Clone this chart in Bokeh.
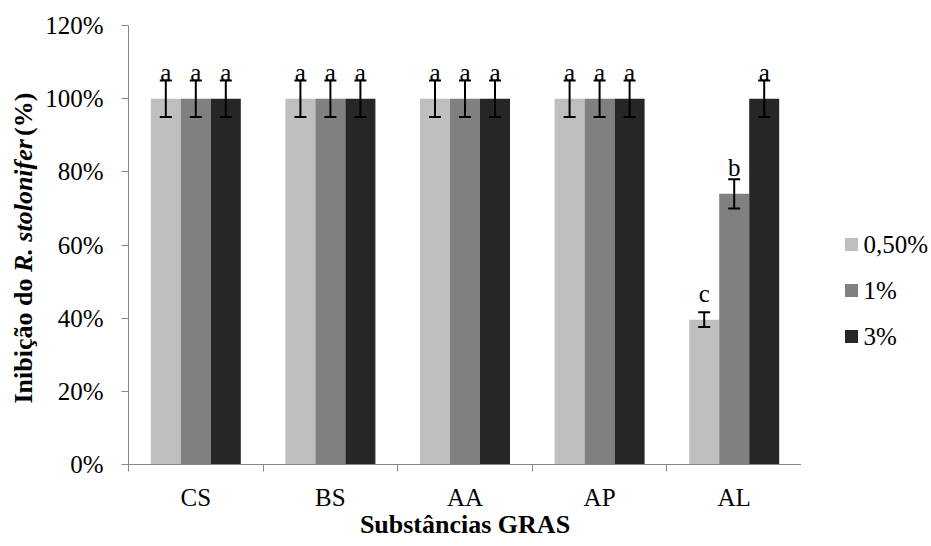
import math
from bokeh.plotting import figure
from bokeh.layouts import row
from bokeh.models import ColumnDataSource, FixedTicker, Range1d, Whisker, TeeHead
from bokeh.core.properties import value
from bokeh.embed import file_html
from bokeh.resources import INLINE

categories = ["CS", "BS", "AA", "AP", "AL"]
series = ["0,50%", "1%", "3%"]
colors = ["#BFBFBF", "#808080", "#262626"]
values = {
    "0,50%": [100, 100, 100, 100, 39.6],
    "1%":    [100, 100, 100, 100, 74.0],
    "3%":    [100, 100, 100, 100, 100],
}
errors = {
    "0,50%": [5, 5, 5, 5, 2],
    "1%":    [5, 5, 5, 5, 4],
    "3%":    [5, 5, 5, 5, 5],
}
letters = {
    "0,50%": ["a", "a", "a", "a", "c"],
    "1%":    ["a", "a", "a", "a", "b"],
    "3%":    ["a", "a", "a", "a", "a"],
}
y_ticks = [0, 20, 40, 60, 80, 100, 120]
y_tick_labels = ["0%", "20%", "40%", "60%", "80%", "100%", "120%"]
x_title = "Substâncias GRAS"
y_title_parts = ["Inibição do ", "R. stolonifer", " (%)"]
y_title_styles = ["bold", "bold italic", "bold"]

FONT = "Liberation Serif"
GRAY = "#868686"
H = 546
LEFT_W = 40
FW, FH = 673, 439
TOP = 25
LEG_W = 130


def strip(width):
    f = figure(frame_width=width, frame_height=FH, output_backend="svg", toolbar_location=None,
               x_range=Range1d(0, width), y_range=Range1d(TOP + FH, TOP),
               min_border=0, min_border_top=TOP, x_axis_location=None, y_axis_location=None)
    f.outline_line_color = None
    f.grid.visible = False
    return f


# ---------- left strip: y-axis title ----------
pl = strip(LEFT_W)
piece_w = [131.5, 136, 50]
anchor = 403
for txt, style, w in zip(y_title_parts, y_title_styles, piece_w):
    pl.text(x=[23], y=[anchor], text=[txt], angle=math.pi / 2, text_align="left",
            text_baseline="middle", text_font=value(FONT), text_font_style=style,
            text_font_size="26px", text_color="black")
    anchor -= w

# ---------- main plot ----------
p = figure(frame_width=FW, frame_height=FH, output_backend="svg", toolbar_location=None,
           x_range=Range1d(0, len(categories)), y_range=Range1d(0, 120),
           min_border_left=128 - LEFT_W, min_border_right=0, min_border_top=TOP,
           min_border_bottom=H - TOP - FH)
p.outline_line_color = None
p.xgrid.visible = False
p.ygrid.visible = False

bw = 30 / (FW / len(categories))
offsets = [-bw, 0, bw]
for s, c, off in zip(series, colors, offsets):
    xs = [i + 0.5 + off for i in range(len(categories))]
    v = values[s]
    e = errors[s]
    src = ColumnDataSource(dict(x=xs, top=v, lower=[a - b for a, b in zip(v, e)],
                                upper=[a + b for a, b in zip(v, e)], lab=letters[s]))
    p.vbar(x="x", top="top", width=bw, bottom=0, source=src, fill_color=c, line_color=None)
    w = Whisker(source=src, base="x", lower="lower", upper="upper", dimension="height",
                line_color="black", line_width=2, level="overlay",
                upper_head=TeeHead(size=12, line_width=2, line_color="black"),
                lower_head=TeeHead(size=12, line_width=2, line_color="black"))
    p.add_layout(w)
    p.text(x="x", y="top", text="lab", source=src, text_align="center",
           text_baseline="alphabetic", y_offset=-26, text_font=value(FONT),
           text_font_size="25px", text_color="black")

p.xaxis.ticker = FixedTicker(ticks=[i + 0.5 for i in range(len(categories))],
                             minor_ticks=list(range(len(categories) + 1)))
p.xaxis.major_label_overrides = {i + 0.5: c for i, c in enumerate(categories)}
p.xaxis.major_tick_out = 0
p.xaxis.major_tick_in = 0
p.xaxis.minor_tick_out = 7
p.xaxis.minor_tick_in = 0
p.xaxis.minor_tick_line_color = GRAY
p.xaxis.axis_line_color = GRAY
p.xaxis.major_label_text_font = FONT
p.xaxis.major_label_text_font_size = "25px"
p.xaxis.major_label_text_color = "black"
p.xaxis.major_label_standoff = 12
p.xaxis.axis_label = x_title
p.xaxis.axis_label_text_font = FONT
p.xaxis.axis_label_text_font_style = "bold"
p.xaxis.axis_label_text_font_size = "26px"
p.xaxis.axis_label_text_color = "black"
p.xaxis.axis_label_standoff = -4

p.yaxis.ticker = FixedTicker(ticks=y_ticks, minor_ticks=[])
p.yaxis.major_label_overrides = {t: l for t, l in zip(y_ticks, y_tick_labels)}
p.yaxis.major_tick_out = 7
p.yaxis.major_tick_in = 0
p.yaxis.major_tick_line_color = GRAY
p.yaxis.axis_line_color = GRAY
p.yaxis.major_label_text_font = FONT
p.yaxis.major_label_text_font_size = "25px"
p.yaxis.major_label_text_color = "black"
p.yaxis.major_label_standoff = 18

# ---------- right strip: legend ----------
pr = strip(LEG_W)
leg_y = [244 + 46 * i for i in range(len(series))]
pr.rect(x=[50] * len(series), y=leg_y, width=13, height=13, fill_color=colors, line_color=None)
pr.text(x=[62] * len(series), y=leg_y, text=series, text_align="left", text_baseline="middle",
        text_font=value(FONT), text_font_size="25px", text_color="black")

layout = row(pl, p, pr, spacing=0)
open("out.html", "w").write(file_html(layout, INLINE))
